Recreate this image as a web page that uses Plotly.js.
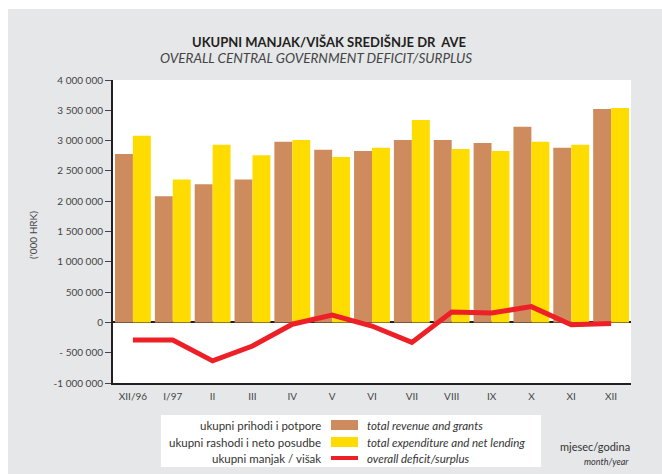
<!DOCTYPE html>
<html>
<head>
<meta charset="utf-8">
<script src="https://cdn.plot.ly/plotly-3.0.1.min.js"></script>
<style>
html,body{margin:0;padding:0;background:#ffffff;}
#chart{position:absolute;left:8px;top:9px;width:654px;height:465px;}
</style>
</head>
<body>
<div id="chart"></div>
<script>
// ---- data ----
const months = ["XII/96","I/97","II","III","IV","V","VI","VII","VIII","IX","X","XI","XII"];
const revenue = [2780000,2080000,2280000,2360000,2980000,2850000,2830000,3010000,3010000,2960000,3230000,2880000,3520000];
const expenditure = [3080000,2360000,2930000,2760000,3010000,2730000,2880000,3340000,2860000,2830000,2980000,2930000,3540000];
const balance = [-290000,-290000,-635000,-390000,-30000,120000,-60000,-330000,170000,155000,260000,-40000,-20000];
const yTickVals = [4000000,3500000,3000000,2500000,2000000,1500000,1000000,500000,0,-500000,-1000000];
const yTickText = ["4 000 000","3 500 000","3 000 000","2 500 000","2 000 000","1 500 000","1 000 000","500 000","0","- 500 000","-1 000 000"];

const colRev = "#CD8B5E", colExp = "#FFDC00", colBal = "#EE2027";
const FONT = "Lato, 'Open Sans', sans-serif";

// layout geometry (div pixels)
const W = 654, H = 465;
const mL = 105, mR = 31, mT = 71, mB = 91;
const pw = W - mL - mR, ph = H - mT - mB;
function px(X){ return (X - 8 - mL) / pw; }      // page x -> paper x
function py(Y){ return (H - mB - (Y - 9)) / ph; } // page y -> paper y

const traces = [
  {type:"bar", x:months, y:revenue, marker:{color:colRev}, hoverinfo:"y", showlegend:false},
  {type:"bar", x:months, y:expenditure, marker:{color:colExp}, hoverinfo:"y", showlegend:false},
  {type:"scatter", mode:"lines", x:months, y:balance, line:{color:colBal, width:5}, showlegend:false}
];

const ann = [];
const shapes = [];
ann.push({xref:"paper",yref:"paper",x:px(329),y:py(42),text:"<b>UKUPNI MANJAK/VIŠAK SREDIŠNJE DR  AVE</b>",showarrow:false,
  font:{family:FONT,size:13,color:"#231f20"},xanchor:"center",yanchor:"middle"});
ann.push({xref:"paper",yref:"paper",x:px(316),y:py(58),text:"<i>OVERALL CENTRAL GOVERNMENT DEFICIT/SURPLUS</i>",showarrow:false,
  font:{family:FONT,size:13.5,color:"#444"},xanchor:"center",yanchor:"middle"});
ann.push({xref:"paper",yref:"paper",x:px(33),y:py(235),text:"('000 HRK)",textangle:-90,showarrow:false,
  font:{family:FONT,size:10,color:"#444"},xanchor:"center",yanchor:"middle"});

// legend box
shapes.push({type:"rect",xref:"paper",yref:"paper",x0:px(161),x1:px(541),y0:py(467),y1:py(415),
  fillcolor:"#ffffff",line:{width:0},layer:"below"});
const legC = ["ukupni prihodi i potpore","ukupni rashodi i neto posudbe","ukupni manjak / višak"];
const legE = ["total revenue and grants","total expenditure and net lending","overall deficit/surplus"];
const legY = [425,442,458];
const legCol = [colRev,colExp,colBal];
for(let i=0;i<3;i++){
  ann.push({xref:"paper",yref:"paper",x:px(323),y:py(legY[i]),text:legC[i],showarrow:false,xanchor:"right",yanchor:"middle",
    font:{family:FONT,size:11.5,color:"#333"}});
  ann.push({xref:"paper",yref:"paper",x:px(365),y:py(legY[i]),text:"<i>"+legE[i]+"</i>",showarrow:false,xanchor:"left",yanchor:"middle",
    font:{family:FONT,size:11.5,color:"#333"}});
  if(i<2){
    shapes.push({type:"rect",xref:"paper",yref:"paper",x0:px(331),x1:px(358),y0:py(legY[i]+5),y1:py(legY[i]-5),
      fillcolor:legCol[i],line:{width:0}});
  } else {
    shapes.push({type:"line",xref:"paper",yref:"paper",x0:px(331),x1:px(358),y0:py(legY[i]),y1:py(legY[i]),
      line:{color:legCol[i],width:4}});
  }
}
ann.push({xref:"paper",yref:"paper",x:px(632),y:py(447),text:"mjesec/godina",showarrow:false,xanchor:"right",yanchor:"middle",
  font:{family:FONT,size:11,color:"#333"}});
ann.push({xref:"paper",yref:"paper",x:px(631),y:py(461),text:"<i>month/year</i>",showarrow:false,xanchor:"right",yanchor:"middle",
  font:{family:FONT,size:9,color:"#333"}});

const layout = {
  width:W, height:H,
  margin:{l:mL,r:mR,t:mT,b:mB,pad:0},
  paper_bgcolor:"#E6E7E9",
  plot_bgcolor:"#ffffff",
  barmode:"group",
  bargap:0.1,
  bargroupgap:0,
  font:{family:FONT,size:10,color:"#444"},
  xaxis:{type:"category",showgrid:false,showline:true,linecolor:"#231f20",linewidth:2,ticks:"",ticklabelstandoff:3,
    tickfont:{family:FONT,size:10,color:"#444"},fixedrange:true},
  yaxis:{range:[-1000000,4000000],tickvals:yTickVals,ticktext:yTickText,showgrid:false,
    showline:true,linecolor:"#231f20",linewidth:2,ticks:"outside",ticklen:6,tickcolor:"#444",tickwidth:1,
    zeroline:true,zerolinecolor:"#231f20",zerolinewidth:2,
    tickfont:{family:FONT,size:10,color:"#444"},fixedrange:true},
  annotations:ann,
  shapes:shapes
};

Plotly.newPlot("chart", traces, layout, {displayModeBar:false, staticPlot:true});
</script>
</body>
</html>
